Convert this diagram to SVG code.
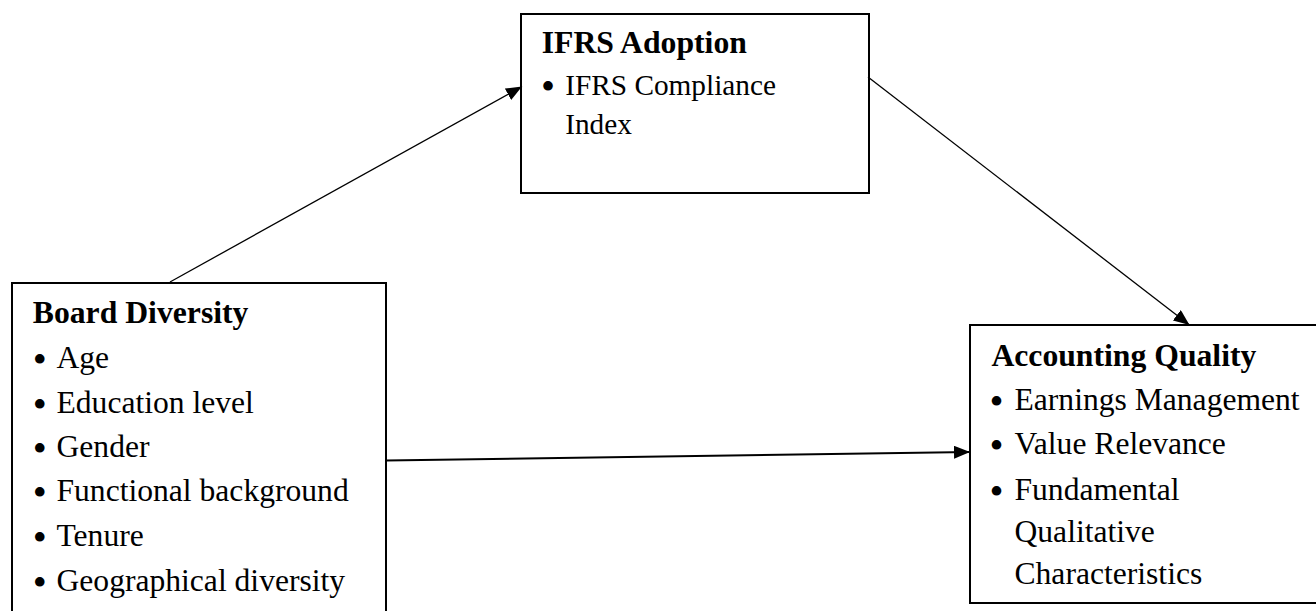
<svg xmlns="http://www.w3.org/2000/svg" width="1316" height="611" viewBox="0 0 1316 611">
<style>
.box{fill:#fff;stroke:#000;stroke-width:2}
.h{font-family:"Liberation Serif","Times New Roman",serif;font-weight:bold;font-size:31.7px;fill:#000}
.t{font-family:"Liberation Serif","Times New Roman",serif;font-size:31.6px;fill:#000}
.ts{font-family:"Liberation Serif","Times New Roman",serif;font-size:29.3px;fill:#000}
.b{font-family:"Liberation Serif","Times New Roman",serif;font-size:40px;fill:#000}
.c{stroke:#000;stroke-width:1.3;fill:none}
.c2{stroke:#000;stroke-width:2;fill:none}
</style>
<defs>
<marker id="ah" viewBox="0 0 16 13" refX="16" refY="6.5" markerWidth="16" markerHeight="13" markerUnits="userSpaceOnUse" orient="auto">
<path d="M0,0 L16,6.5 L0,13 Z" fill="#000"/>
</marker>
</defs>
<rect width="1316" height="611" fill="#fff"/>
<g id="ifrs-adoption">
<rect class="box" x="521" y="14" width="348" height="179"/>
<text class="h" x="541.7" y="53.3">IFRS Adoption</text>
<text class="b" x="541" y="100">•</text>
<text class="ts" x="565.2" y="95">IFRS Compliance</text>
<text class="ts" x="565.2" y="133.5">Index</text>
</g>
<g id="board-diversity">
<rect class="box" x="12" y="283" width="374" height="340"/>
<text class="h" x="32.8" y="323">Board Diversity</text>
<g class="b">
<text x="32.8" y="373">•</text>
<text x="32.8" y="417.7">•</text>
<text x="32.8" y="462">•</text>
<text x="32.8" y="505.7">•</text>
<text x="32.8" y="551">•</text>
<text x="32.8" y="595.7">•</text>
</g>
<g class="t">
<text x="56.5" y="368">Age</text>
<text x="56.5" y="412.7">Education level</text>
<text x="56.5" y="457">Gender</text>
<text x="56.5" y="500.7">Functional background</text>
<text x="56.5" y="546">Tenure</text>
<text x="56.5" y="590.7">Geographical diversity</text>
</g>
</g>
<g id="accounting-quality">
<rect class="box" x="970" y="325" width="352" height="278"/>
<text class="h" x="991.4" y="365.5">Accounting Quality</text>
<g class="b">
<text x="989.5" y="414.5">•</text>
<text x="989.5" y="459">•</text>
<text x="989.5" y="504.5">•</text>
</g>
<g class="t">
<text x="1014.5" y="409.5">Earnings Management</text>
<text x="1014.5" y="454">Value Relevance</text>
<text x="1014.5" y="499.5">Fundamental</text>
<text x="1014.5" y="541.5">Qualitative</text>
<text x="1014.5" y="583.5">Characteristics</text>
</g>
</g>
<g id="connectors">
<line class="c" x1="170" y1="282" x2="522" y2="86.5" marker-end="url(#ah)"/>
<line class="c" x1="868" y1="77" x2="1189.5" y2="325" marker-end="url(#ah)"/>
<line class="c2" x1="386" y1="460.5" x2="970" y2="452" marker-end="url(#ah)"/>
</g>
</svg>
